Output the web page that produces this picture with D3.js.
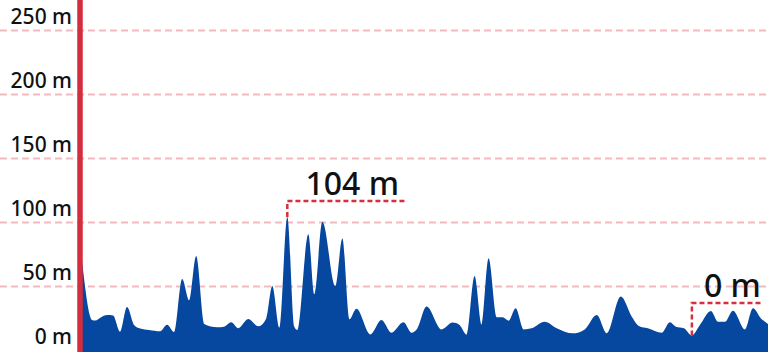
<!DOCTYPE html>
<html>
<head>
<meta charset="utf-8">
<script src="https://cdn.jsdelivr.net/npm/d3@7"></script>
<style>
  html, body { margin: 0; padding: 0; background: #fff; }
  svg { display: block; font-family: "Noto Sans", sans-serif; }
</style>
</head>
<body>
<div id="container"></div>
<script>
/* CONSTANTS AND GLOBALS */
const width = 768;
const height = 352;

// distance along the route (arbitrary units) and elevation in m
const distance = [0, 10, 13, 20, 25, 31, 38, 45, 52, 58, 67, 78, 85, 92, 100, 107, 114, 122,
  135, 142, 149, 156, 166, 176, 184, 190, 197, 205, 212, 215, 226, 232, 240, 253, 260, 267,
  274, 288, 299, 309, 321, 329, 335, 344, 359, 370, 377, 384, 392, 399, 406, 414, 420, 426,
  433, 441, 449, 462, 474, 490, 502, 514, 524, 538, 549, 556, 565, 579, 587, 593, 601, 609,
  617, 628, 635, 642, 650, 662, 670, 678, 685];
const elevation = [69.5, 23.4, 23, 26, 27.3, 27, 14.3, 33.6, 19.5, 16.7, 15.6, 14.6, 19.8, 14, 55.5, 38.8, 73.4, 20.3,
  17.7, 18.2, 21.6, 17, 24.2, 18.5, 24.7, 50, 17.4, 104, 18.2, 15.6, 90.4, 43.5, 100.2, 50, 87.2, 24,
  32.3, 12.2, 23.4, 13.5, 21.6, 13.5, 17, 34, 16.1, 21.4, 19.5, 12, 57.8, 19.5, 71.6, 25.5, 25.5, 22.9,
  32.6, 16.1, 17, 22.1, 17, 13, 16.1, 27.3, 13, 41.7, 26, 18.8, 17, 13.5, 21.6, 18.2, 17, 11.4,
  19.5, 30.5, 22.1, 22, 30.7, 16.1, 32.6, 24.7, 20.3];

const yTicks = [0, 50, 100, 150, 200, 250];
// labels shown on the max / min markers
const markerLabels = ["104 m", "0 m"];

const data = distance.map((d, i) => ({ dist: d, ele: elevation[i] }));

/* SCALES */
const xScale = d3.scaleLinear()
  .domain([0, d3.max(distance)])
  .range([82, width]);

const yScale = d3.scaleLinear()
  .domain([0, 250])
  .range([350, 30]);

/* HTML ELEMENTS */
const svg = d3.select("#container")
  .append("svg")
  .attr("width", width)
  .attr("height", height);

// dashed grid
const grid = svg.append("g")
  .call(d3.axisRight(yScale).tickValues(yTicks.filter(d => d > 0)).tickSize(width).tickFormat(""));
grid.select(".domain").remove();
grid.selectAll("line")
  .attr("stroke", "#f3b9bf")
  .attr("stroke-width", 2)
  .attr("stroke-dasharray", "7,4");

// tick labels
const yAxis = svg.append("g")
  .attr("transform", "translate(72,0)")
  .call(d3.axisLeft(yScale).tickValues(yTicks).tickSize(0).tickPadding(0).tickFormat(d => d + " m"));
yAxis.select(".domain").remove();
yAxis.selectAll("text")
  .attr("dy", null)
  .attr("y", -7)
  .attr("fill", "#111")
  .style("font-size", "21px")
  .style("font-weight", 500)
  .style("font-family", "Noto Sans, sans-serif");

// elevation area
const area = d3.area()
  .x(d => xScale(d.dist))
  .y0(height)
  .y1(d => yScale(d.ele))
  .curve(d3.curveMonotoneX);

svg.append("path")
  .datum(data)
  .attr("fill", "#06479f")
  .attr("d", area);

// red axis line
svg.append("line")
  .attr("x1", 80).attr("x2", 80)
  .attr("y1", 0).attr("y2", height)
  .attr("stroke", "#d42e3e")
  .attr("stroke-width", 5.5);

// max / min markers
const maxPt = data[d3.maxIndex(data, d => d.ele)];
const minPt = data[d3.minIndex(data, d => d.ele)];
const markers = [
  { pt: maxPt, top: 201, len: 120, label: markerLabels[0] },
  { pt: minPt, top: 303, len: 71, label: markerLabels[1] }
];

markers.forEach(m => {
  const x = xScale(m.pt.dist);
  const y = yScale(m.pt.ele);
  svg.append("path")
    .attr("d", `M${x},${y}V${m.top}H${x + m.len}`)
    .attr("fill", "none")
    .attr("stroke", "#d62f3f")
    .attr("stroke-width", 2.5)
    .attr("stroke-dasharray", "5,3");
  svg.append("text")
    .attr("x", x + m.len / 2 + 5)
    .attr("y", m.top - 6)
    .attr("text-anchor", "middle")
    .attr("fill", "#111")
    .style("font-size", "32px")
    .style("font-weight", 500)
    .text(m.label);
});
</script>
</body>
</html>
